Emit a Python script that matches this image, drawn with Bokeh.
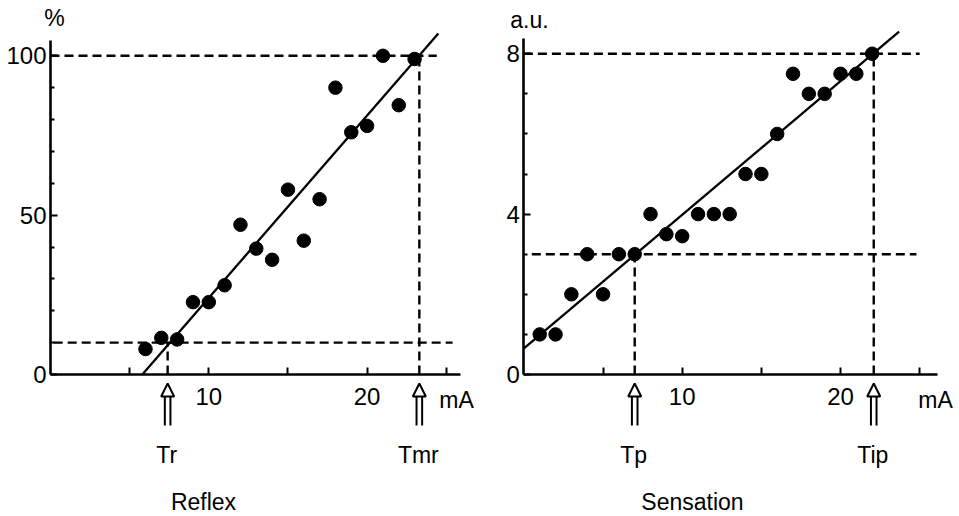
from bokeh.plotting import figure
from bokeh.layouts import row
from bokeh.models import FixedTicker, Label, Arrow, NormalHead, Range1d
from bokeh.embed import file_html
from bokeh.resources import INLINE

# ---------------- Reflex panel data ----------------
reflex_ma = [6, 7, 8, 9, 10, 11, 12, 13, 14, 15, 16, 17, 18, 19, 20, 21, 22, 23]
reflex_pct = [8, 11.5, 11, 22.7, 22.7, 28, 47, 39.5, 36, 58, 42, 55, 90, 76, 78, 100, 84.5, 99]
reflex_fit_ma = [5.8, 24.5]
reflex_fit_pct = [0, 107]
reflex_levels = [10, 100]
reflex_level_start = [0.2, 0.0]
reflex_level_end = [25.4, 24.4]
reflex_thresholds = [7.4, 23.3]
reflex_threshold_names = ["Tr", "Tmr"]
reflex_yticks = [0, 50, 100]
reflex_yminor = [10, 20, 30, 40, 60, 70, 80, 90]
reflex_xmax = 25.9
reflex_ymax = 104.8

# ---------------- Sensation panel data ----------------
sens_ma = [1, 2, 3, 4, 5, 6, 7, 8, 9, 10, 11, 12, 13, 14, 15, 16, 17, 18, 19, 20, 21, 22]
sens_au = [1, 1, 2, 3, 2, 3, 3, 4, 3.5, 3.45, 4, 4, 4, 5, 5, 6, 7.5, 7, 7, 7.5, 7.5, 8]
sens_fit_ma = [0.0, 23.7]
sens_fit_au = [0.65, 8.55]
sens_levels = [3, 8]
sens_level_start = [0.5, 0.0]
sens_level_end = [24.8, 25.0]
sens_thresholds = [7.0, 22.1]
sens_threshold_names = ["Tp", "Tip"]
sens_yticks = [0, 4, 8]
sens_yminor = [1, 2, 3, 5, 6, 7]
sens_xmax = 26.1
sens_ymax = 8.38

xticks = [5, 10, 15, 20, 25]
xtick_labels = {5: "", 10: "10", 15: "", 20: "20", 25: ""}

FONT = "Liberation Sans"
FS = "23px"
TICK_FS = "24px"
PX_PER_MA = 15.83
FIG_H = 515
AXIS_FROM_TOP = 374   # pixel row of y = 0 inside each figure


def panel(xs, ys, fit_x, fit_y, levels, lstart, lend, thresholds, tnames,
          yticks, yminor, xmax, ymax, unit, title, title_px, unit_px, unit_py, mA_px,
          width, axis_left, top_px):
    px_per_y = (AXIS_FROM_TOP - top_px) / ymax

    def X(px):  # pixel offset from y axis -> data
        return px / PX_PER_MA

    def Y(py):  # pixel offset above x axis -> data
        return py / px_per_y

    p = figure(width=width, height=FIG_H, min_border=0,
               x_range=Range1d(X(-axis_left), X(width - axis_left)),
               y_range=Range1d(Y(-(FIG_H - AXIS_FROM_TOP)), Y(AXIS_FROM_TOP)),
               output_backend="svg", toolbar_location=None, tools="")
    p.outline_line_color = None
    p.xgrid.visible = False
    p.ygrid.visible = False
    p.background_fill_color = "white"
    p.border_fill_color = "white"

    for ax in (p.xaxis[0], p.yaxis[0]):
        ax.fixed_location = 0
        ax.axis_line_width = 2.6
        ax.axis_line_color = "black"
        ax.major_tick_in = 7
        ax.major_tick_out = 0
        ax.major_tick_line_width = 2
        ax.minor_tick_in = 4
        ax.minor_tick_out = 0
        ax.minor_tick_line_width = 2
        ax.major_label_text_font = FONT
        ax.major_label_text_font_size = TICK_FS
        ax.major_label_text_color = "black"

    p.xaxis[0].bounds = (0, xmax)
    p.xaxis[0].ticker = FixedTicker(ticks=xticks)
    p.xaxis[0].major_label_overrides = xtick_labels
    p.xaxis[0].major_label_standoff = 13
    p.yaxis[0].bounds = (0, ymax)
    p.yaxis[0].ticker = FixedTicker(ticks=yticks, minor_ticks=yminor)
    p.yaxis[0].major_label_standoff = 4

    # dashed guide lines
    for lv, s, e in zip(levels, lstart, lend):
        p.line([s, e], [lv, lv], line_color="black", line_width=2.4, line_dash="9 5")
    for t, lv in zip(thresholds, levels):
        p.line([t, t], [0, lv], line_color="black", line_width=2.4, line_dash="9 5")

    # regression line
    p.line(fit_x, fit_y, line_color="black", line_width=2.3)

    # data points
    p.scatter(xs, ys, size=13.5, color="black")

    def label(x, y, text):
        p.add_layout(Label(x=x, y=y, text=text, text_align="center", text_baseline="middle",
                           text_font=FONT, text_font_size=FS, text_color="black"))

    # hollow double-shafted arrows and threshold names below the axis
    d = X(2.8)
    for t, name in zip(thresholds, tnames):
        p.add_layout(Arrow(end=NormalHead(size=13, fill_color="white", line_color="black", line_width=2),
                           x_start=t, y_start=Y(-21), x_end=t, y_end=Y(-9), line_alpha=0))
        for dx in (-d, d):
            p.add_layout(Arrow(end=None, x_start=t + dx, y_start=Y(-22), x_end=t + dx, y_end=Y(-51),
                               line_width=2, line_color="black"))
        label(t - X(1), Y(-80), name)

    label(X(unit_px), Y(unit_py), unit)
    label(X(mA_px), Y(-25), "mA")
    label(X(title_px), Y(-127), title)
    return p


left = panel(reflex_ma, reflex_pct, reflex_fit_ma, reflex_fit_pct, reflex_levels,
             reflex_level_start, reflex_level_end, reflex_thresholds, reflex_threshold_names,
             reflex_yticks, reflex_yminor, reflex_xmax, reflex_ymax, "%", "Reflex",
             153, 4, 357, 406, width=478, axis_left=50, top_px=40)

right = panel(sens_ma, sens_au, sens_fit_ma, sens_fit_au, sens_levels,
              sens_level_start, sens_level_end, sens_thresholds, sens_threshold_names,
              sens_yticks, sens_yminor, sens_xmax, sens_ymax, "a.u.", "Sensation",
              168.6, 5.6, 355, 411.6, width=480, axis_left=45.4, top_px=38)

layout = row(left, right)
open("out.html", "w").write(file_html(layout, INLINE))
